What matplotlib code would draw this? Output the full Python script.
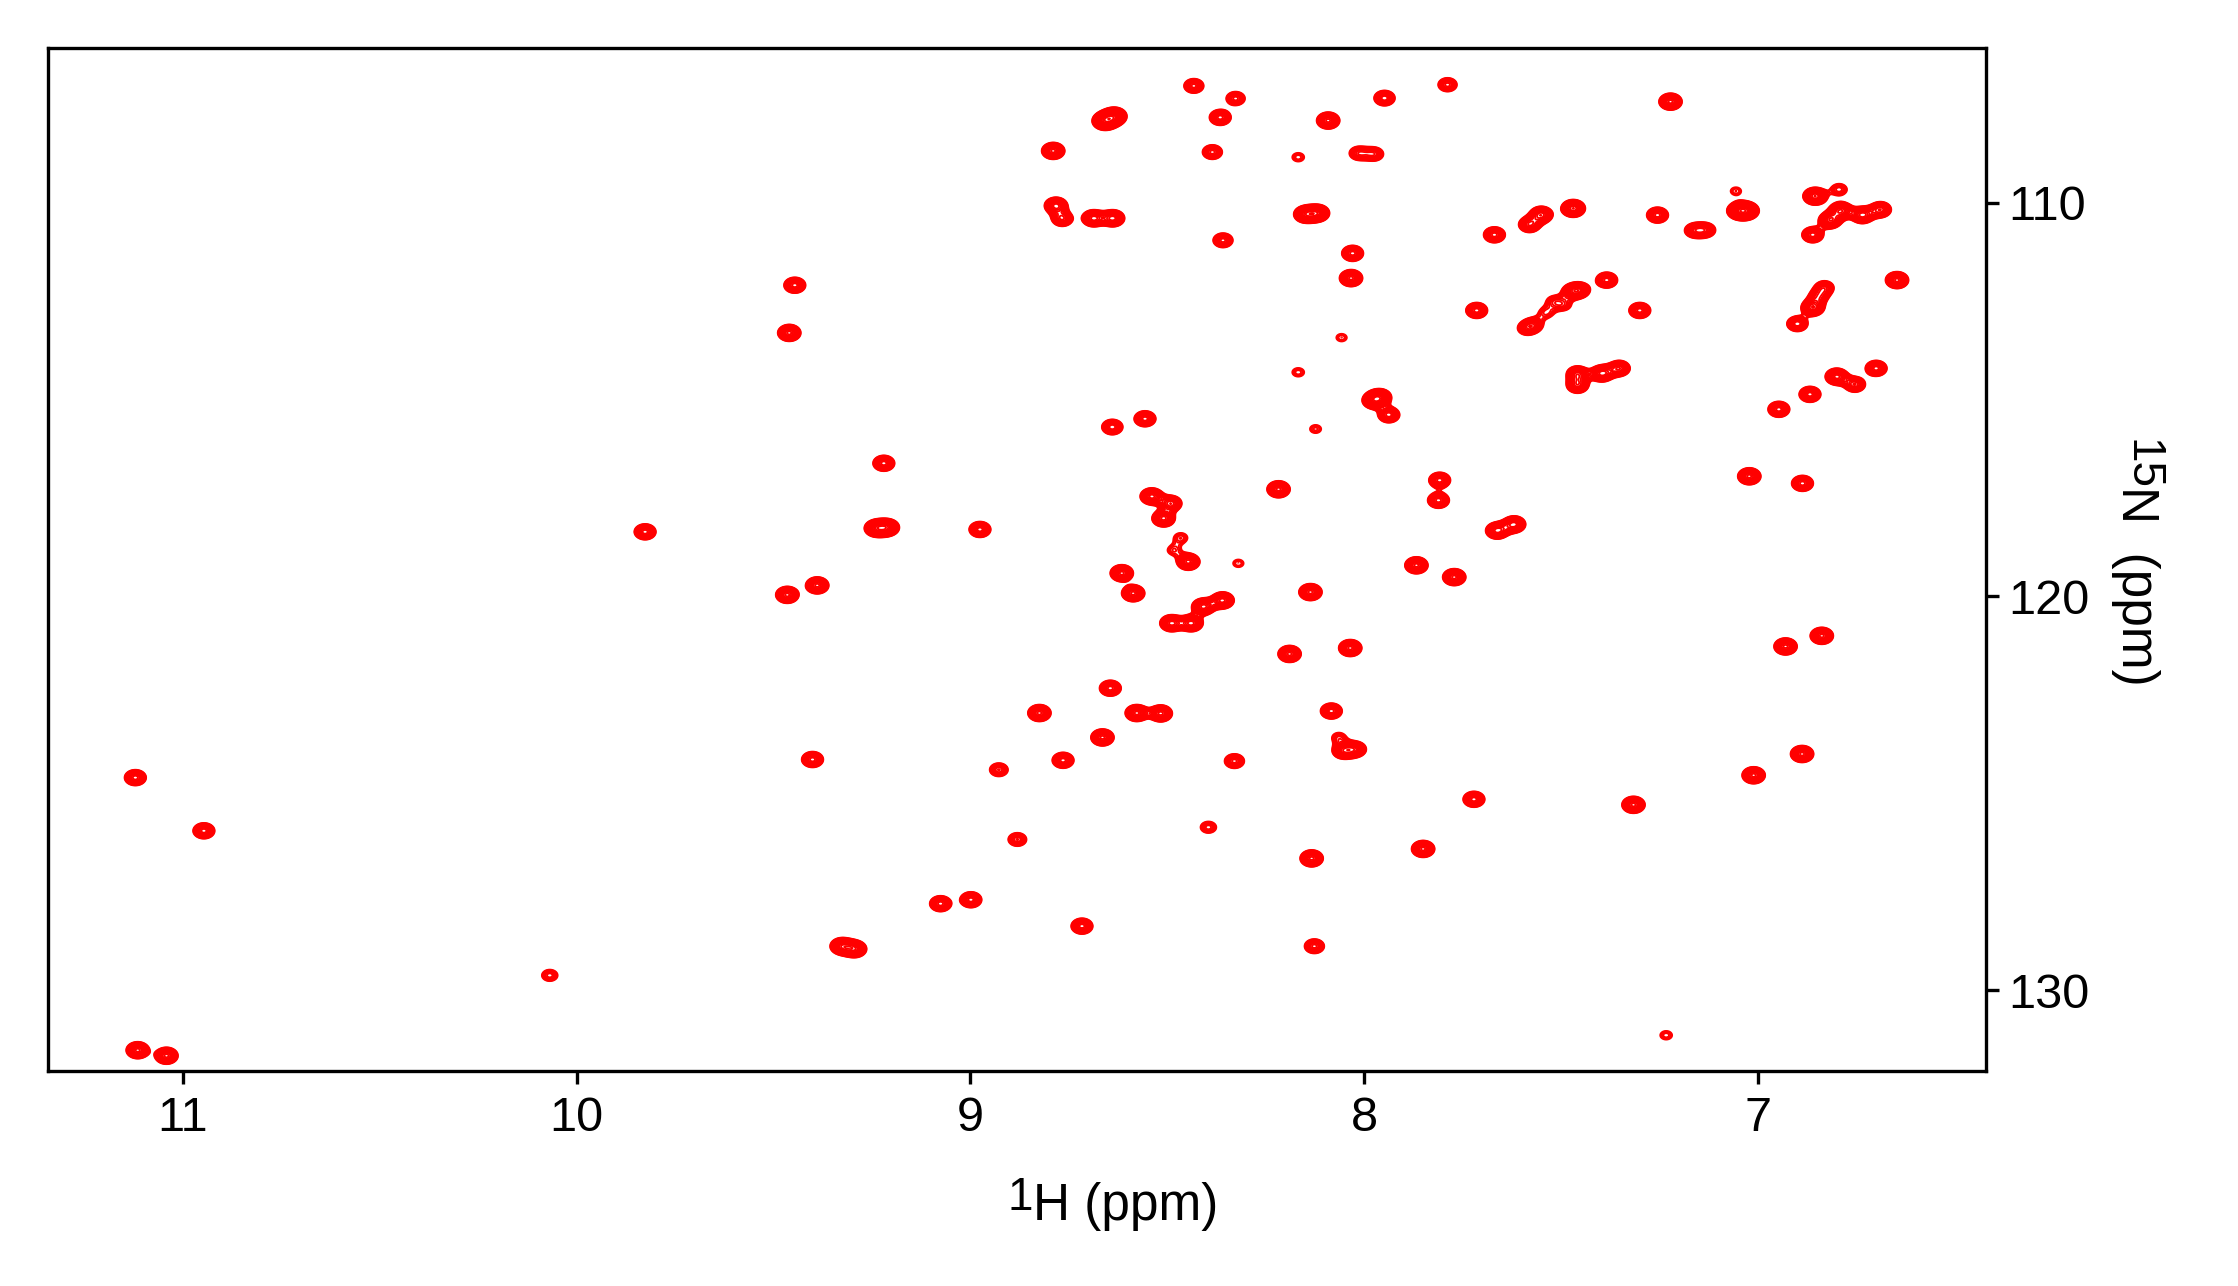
import numpy as np
import matplotlib
matplotlib.use("Agg")
import matplotlib.pyplot as plt

plt.rcParams['font.family'] = ['Liberation Sans', 'DejaVu Sans']

# Peak list: 1H shift, 15N shift, relative intensity
peak_h = [
    8.433, 8.327, 7.789, 7.949, 7.223, 8.659, 8.634, 8.366, 8.092, 8.790, 8.386, 8.168, 7.975, 8.015,
    8.783, 8.767, 8.688, 8.638, 8.150, 8.118, 8.359, 7.670, 7.581, 7.551, 7.470, 7.256, 7.163, 7.133,
    7.057, 7.050, 7.028, 6.856, 6.795, 6.862, 6.818, 6.790, 6.736, 6.690,
    8.030, 8.034, 8.058, 7.715, 7.385, 7.301, 7.453, 7.475, 7.520, 7.493, 7.539, 7.570, 7.589,
    6.832, 6.848, 6.862, 6.901, 6.648, 9.446, 9.460,
    8.168, 8.124, 7.459, 7.459, 7.397, 7.353, 7.977, 7.960, 7.938, 8.640, 8.557,
    6.701, 6.801, 6.755, 6.869, 6.948,
    9.220, 7.023, 6.888, 7.809, 7.812, 8.218, 8.540, 8.491, 8.510, 8.466, 8.485, 8.447, 8.320,
    9.826, 9.240, 9.210, 8.976, 7.663, 7.620,
    8.616, 8.587, 7.868, 7.772, 8.137, 8.409, 8.360, 8.490, 8.439, 9.389, 9.465,
    8.190, 8.036, 6.931, 6.839,
    8.645, 8.825, 8.578, 8.517, 8.084, 8.065, 8.054, 8.022, 8.665, 8.765, 8.330, 9.401, 8.928,
    6.889, 7.012, 11.120,
    7.722, 7.317, 10.946, 8.881, 8.396, 7.851, 8.134,
    9.076, 8.999, 8.717, 9.327, 9.293, 8.127, 10.068, 7.234, 11.114, 11.041,
]
peak_n = [
    107.04, 107.36, 107.01, 107.35, 107.44, 107.93, 107.81, 107.84, 107.92, 108.69, 108.72, 108.85, 108.77, 108.75,
    110.08, 110.41, 110.40, 110.40, 110.30, 110.27, 110.96, 110.82, 110.56, 110.31, 110.15, 110.32, 110.71, 110.70,
    109.71, 110.21, 110.21, 109.84, 109.67, 110.82, 110.45, 110.20, 110.32, 110.18,
    111.29, 111.92, 113.43, 112.74, 111.97, 112.74, 112.22, 112.26, 112.50, 112.61, 112.80, 113.10, 113.20,
    112.16, 112.39, 112.67, 113.08, 111.97, 112.10, 113.31,
    114.31, 115.75, 114.35, 114.64, 114.34, 114.21, 115.03, 114.94, 115.39, 115.70, 115.49,
    114.21, 114.42, 114.62, 114.87, 115.25,
    116.62, 116.95, 117.13, 117.05, 117.56, 117.28, 117.46, 117.64, 118.02, 118.51, 118.83, 119.12, 119.16,
    118.36, 118.27, 118.25, 118.30, 118.33, 118.17,
    119.41, 119.92, 119.21, 119.51, 119.89, 120.26, 120.10, 120.68, 120.68, 119.72, 119.96,
    121.46, 121.31, 121.27, 121.00,
    122.33, 122.96, 122.96, 122.97, 122.91, 123.58, 123.92, 123.88, 123.58, 124.16, 124.18, 124.14, 124.40,
    124.00, 124.54, 124.60,
    125.15, 125.29, 125.95, 126.17, 125.86, 126.41, 126.65,
    127.80, 127.70, 128.37, 128.88, 128.95, 128.88, 129.62, 131.14, 131.52, 131.66,
]
peak_amp = [
    2.5, 2.3, 2.3, 2.8, 3.5, 4.5, 4.0, 3.0, 3.5, 3.5, 2.5, 1.4, 2.2, 2.2,
    3.5, 2.8, 3.5, 3.5, 3.5, 3.5, 2.5, 3.0, 3.0, 3.5, 4.0, 3.0, 2.3, 2.3,
    1.3, 3.5, 3.5, 4.0, 1.8, 3.0, 3.5, 3.5, 3.5, 3.0,
    3.0, 3.5, 1.3, 3.0, 3.0, 3.0, 2.5, 2.0, 1.4, 1.4, 1.5, 2.0, 1.8,
    2.2, 2.0, 3.5, 2.8, 3.5, 3.0, 3.5,
    1.4, 1.35, 3.0, 3.0, 3.5, 3.0, 3.0, 3.0, 3.0, 2.8, 3.0,
    3.0, 3.5, 2.8, 3.0, 3.0,
    3.0, 3.5, 3.0, 3.0, 3.0, 3.5, 3.5, 3.0, 3.5, 1.5, 1.35, 3.5, 1.3,
    3.0, 3.5, 3.5, 3.0, 3.5, 3.5,
    3.5, 3.5, 3.5, 3.5, 3.5, 3.5, 3.5, 3.5, 3.5, 3.5, 3.5,
    3.5, 3.5, 3.5, 3.5,
    3.0, 3.5, 3.5, 3.5, 3.0, 1.5, 3.0, 2.8, 3.5, 3.0, 2.5, 3.0, 2.2,
    3.5, 3.5, 3.0,
    3.0, 3.5, 3.0, 2.2, 1.8, 3.5, 3.5,
    3.0, 3.0, 3.0, 3.5, 3.5, 2.5, 1.8, 1.4, 3.5, 3.5,
]
assert len(peak_h) == len(peak_n) == len(peak_amp)

x_ticks = [11, 10, 9, 8, 7]
y_ticks = [110, 120, 130]

# build the 2D spectrum from the peak list (gaussian line shapes)
sig_h, sig_n = 0.0185, 0.135
h_axis = np.arange(6.40, 11.36, 0.0025)
n_axis = np.arange(106.0, 132.1, 0.025)
spec = np.zeros((len(n_axis), len(h_axis)))
for h, n, a in zip(peak_h, peak_n, peak_amp):
    gx = np.exp(-0.5 * ((h_axis - h) / sig_h) ** 2)
    gy = np.exp(-0.5 * ((n_axis - n) / sig_n) ** 2)
    spec += a * np.outer(gy, gx)

levels = 1.0 * 1.09 ** np.arange(0, 22)

fig = plt.figure(figsize=(22.38, 12.86), dpi=100)
ax = fig.add_axes([0.0214, 0.1668, 0.8662, 0.7955])
ax.contour(h_axis, n_axis, spec, levels=levels, colors='#ff0000', linewidths=1.3)

ax.set_xlim(11.342, 6.421)
ax.set_ylim(132.06, 106.09)
ax.set_xticks(x_ticks)
ax.set_xticklabels([str(t) for t in x_ticks])
ax.set_yticks(y_ticks)
ax.set_yticklabels([str(t) for t in y_ticks])
ax.yaxis.tick_right()
ax.tick_params(axis='x', direction='out', length=9.5, width=2.4, labelsize=35, pad=8)
ax.tick_params(axis='y', direction='out', length=9.5, width=2.4, labelsize=35, pad=6)
for sp in ax.spines.values():
    sp.set_linewidth(2.4)

# axis labels with full-size raised isotope numbers
fig.text(0.4616, 0.0513, 'H (ppm)', fontsize=37, ha='left', va='baseline')
fig.text(0.4614, 0.0591, '1', fontsize=33, ha='right', va='baseline')
fig.text(0.9482, 0.6221, 'N  (ppm)', fontsize=37, rotation=-90,
         rotation_mode='anchor', ha='left', va='baseline')
fig.text(0.9517, 0.6586, '15', fontsize=33, rotation=-90,
         rotation_mode='anchor', ha='left', va='baseline')

fig.savefig('out.png', dpi=100)
